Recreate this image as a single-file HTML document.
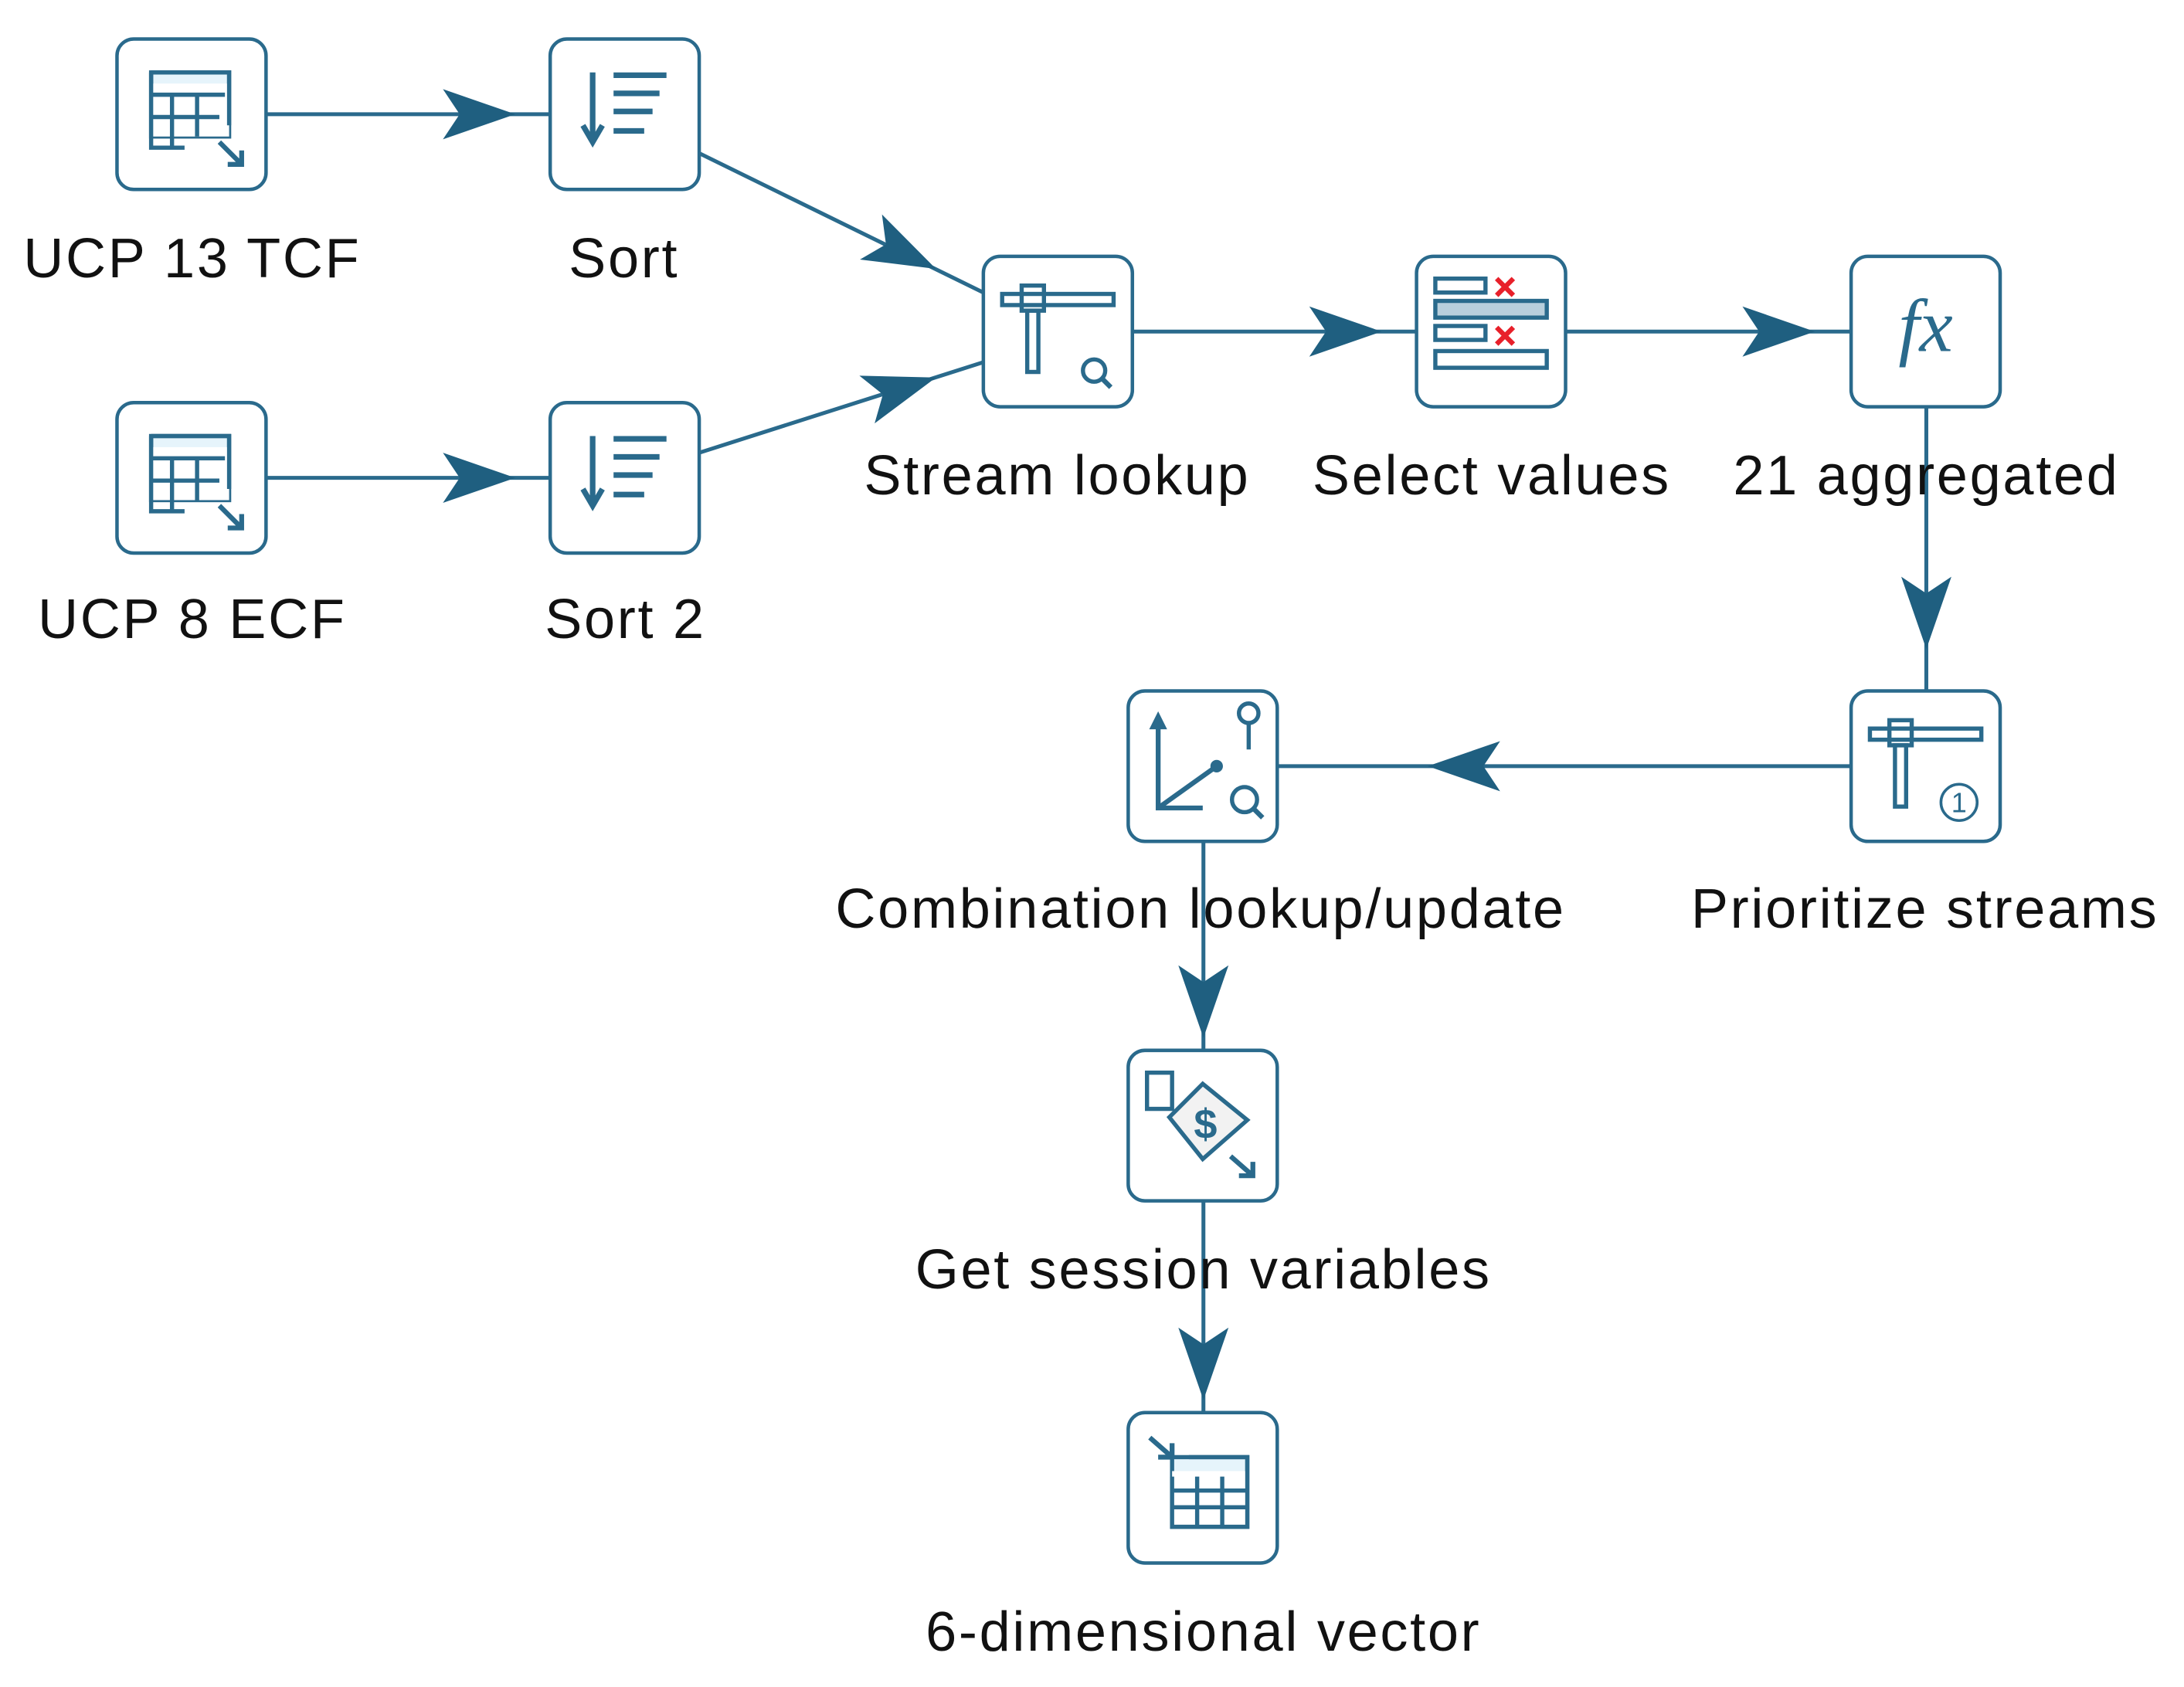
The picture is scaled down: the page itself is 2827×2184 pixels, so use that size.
<!DOCTYPE html>
<html><head><meta charset="utf-8"><style>html,body{margin:0;padding:0;background:#fff}svg{display:block}</style></head>
<body>
<svg width="2827" height="2184" viewBox="0 0 1568 1211" preserveAspectRatio="none" xmlns="http://www.w3.org/2000/svg">
<defs>
<path id="ah" d="M0,0 L-52,-18 L-40,0 L-52,18 Z" fill="#1f5f80"/>
<rect id="box" x="-53.5" y="-54" width="107" height="108" rx="12" fill="#fff" stroke="#2a6a8c" stroke-width="2.5"/>
</defs>
<rect width="1568" height="1211" fill="#fff"/>
<g stroke="#2a6a8c" stroke-width="2.8" fill="none">
<line x1="191" y1="82" x2="395" y2="82"/>
<line x1="191" y1="343" x2="395" y2="343"/>
<line x1="502" y1="110" x2="706" y2="210"/>
<line x1="502" y1="325" x2="706" y2="260"/>
<line x1="813" y1="238" x2="1017" y2="238"/>
<line x1="1124" y1="238" x2="1329" y2="238"/>
<line x1="1383" y1="292" x2="1383" y2="496"/>
<line x1="1329" y1="550" x2="917" y2="550"/>
<line x1="864" y1="603" x2="864" y2="755"/>
<line x1="864" y1="862" x2="864" y2="1015"/>
</g>
<use href="#ah" transform="translate(370,82)"/>
<use href="#ah" transform="translate(370,343)"/>
<use href="#ah" transform="translate(672,193) rotate(26.1)"/>
<use href="#ah" transform="translate(672,271) rotate(-17.7)"/>
<use href="#ah" transform="translate(992,238)"/>
<use href="#ah" transform="translate(1303,238)"/>
<use href="#ah" transform="translate(1383,466) rotate(90)"/>
<use href="#ah" transform="translate(1025,550) rotate(180)"/>
<use href="#ah" transform="translate(864,745) rotate(90)"/>
<use href="#ah" transform="translate(864,1005) rotate(90)"/>

<g stroke="#2a6a8c" stroke-width="3" fill="none">
<g transform="translate(137.5,82)"><use href="#box"/>
<rect x="-29" y="-30" width="56" height="46" fill="#e6f4fb"/><rect x="-29" y="-22" width="56" height="38" fill="#fff" stroke="none"/>
<path d="M-29,-30 H27 V8 M-29,-30 V24 H-5 M-29,-14 H24 M-29,2 H20 M-14,-14 V24 M4,-14 V16"/>
<path d="M20,20 L36,36 M36,26 V36 H26" stroke-width="3.5"/></g>
<g transform="translate(137.5,343)"><use href="#box"/>
<rect x="-29" y="-30" width="56" height="46" fill="#e6f4fb"/><rect x="-29" y="-22" width="56" height="38" fill="#fff" stroke="none"/>
<path d="M-29,-30 H27 V8 M-29,-30 V24 H-5 M-29,-14 H24 M-29,2 H20 M-14,-14 V24 M4,-14 V16"/>
<path d="M20,20 L36,36 M36,26 V36 H26" stroke-width="3.5"/></g>
<g transform="translate(448.5,82)"><use href="#box"/>
<path d="M-23,-30 V18 M-30,8 L-23,20 L-16,8 M-8,-28 H30 M-8,-15 H25 M-8,-2 H20 M-8,12 H14" stroke-width="4"/></g>
<g transform="translate(448.5,343)"><use href="#box"/>
<path d="M-23,-30 V18 M-30,8 L-23,20 L-16,8 M-8,-28 H30 M-8,-15 H25 M-8,-2 H20 M-8,12 H14" stroke-width="4"/></g>
<g transform="translate(759.5,238)"><use href="#box"/>
<rect x="-40" y="-27" width="80" height="8"/><rect x="-26" y="-33" width="16" height="18"/><rect x="-22" y="-15" width="8" height="44"/>
<circle cx="26" cy="28" r="8"/><path d="M31,33 L38,40" stroke-width="3.5"/></g>
<g transform="translate(1070.5,238)"><use href="#box"/>
<rect x="-40" y="-38" width="36" height="10"/><rect x="-40" y="-22" width="80" height="12" fill="#b9cfdc"/><rect x="-40" y="-4" width="36" height="10"/><rect x="-40" y="14" width="80" height="12"/>
<path d="M4,-38 L16,-26 M16,-38 L4,-26 M4,-3 L16,9 M16,-3 L4,9" stroke="#e8202a" stroke-width="3.5"/></g>
<g transform="translate(1382.5,238)"><use href="#box"/>
<text x="0" y="14" text-anchor="middle" font-family="Liberation Serif, serif" font-style="italic" font-size="54" fill="#2a6a8c" stroke="none">fx</text></g>
<g transform="translate(1382.5,550)"><use href="#box"/>
<rect x="-40" y="-27" width="80" height="8"/><rect x="-26" y="-33" width="16" height="18"/><rect x="-22" y="-15" width="8" height="44"/>
<circle cx="24" cy="26" r="13" stroke-width="2"/>
<text x="24" y="33" text-anchor="middle" font-family="Liberation Sans, sans-serif" font-size="20" fill="#2a6a8c" stroke="none">1</text></g>
<g transform="translate(863.5,550)"><use href="#box"/>
<path d="M-32,-34 V30 H0 M-32,30 L10,0" stroke-width="3.5"/><path d="M-36,-28 L-32,-36 L-28,-28 Z" fill="#2a6a8c"/>
<circle cx="10" cy="0" r="3" fill="#2a6a8c"/>
<circle cx="33" cy="-38" r="7"/><path d="M33,-31 V-12"/>
<circle cx="30" cy="24" r="9"/><path d="M36,30 L43,37" stroke-width="3.5"/></g>
<g transform="translate(863.5,808)"><use href="#box"/>
<path d="M-24,-6 L0,-30 L32,-4 L0,24 Z" fill="#f2f2f2"/>
<rect x="-40" y="-38" width="18" height="26" fill="#fff"/>
<text x="2" y="9" text-anchor="middle" font-family="Liberation Sans, sans-serif" font-weight="bold" font-size="30" fill="#2a6a8c" stroke="none">$</text>
<path d="M20,22 L36,36 M36,26 V36 H26" stroke-width="3.5"/></g>
<g transform="translate(863.5,1068)"><use href="#box"/>
<path d="M-38,-36 L-22,-22 M-22,-32 V-22 H-32" stroke-width="3.5"/>
<rect x="-22" y="-22" width="54" height="50" fill="#e6f4fb"/><rect x="-22" y="-12" width="54" height="40" fill="#fff" stroke="none"/>
<path d="M-10,-22 H32 V28 H-22 V-8 M-22,2 H32 M-22,14 H32 M-4,-8 V28 M14,-8 V28"/></g>
</g>

<g font-family="Liberation Sans, sans-serif" font-size="40" letter-spacing="1.5" fill="#111" text-anchor="middle">
<text x="138" y="199">UCP 13 TCF</text>
<text x="448" y="199">Sort</text>
<text x="138" y="458">UCP 8 ECF</text>
<text x="449" y="458">Sort 2</text>
<text x="759" y="355">Stream lookup</text>
<text x="1071" y="355">Select values</text>
<text x="1383" y="355">21 aggregated</text>
<text x="1382" y="666">Prioritize streams</text>
<text x="862" y="666">Combination lookup/update</text>
<text x="864" y="925">Get session variables</text>
<text x="864" y="1185">6-dimensional vector</text>
</g>
</svg>
</body></html>
